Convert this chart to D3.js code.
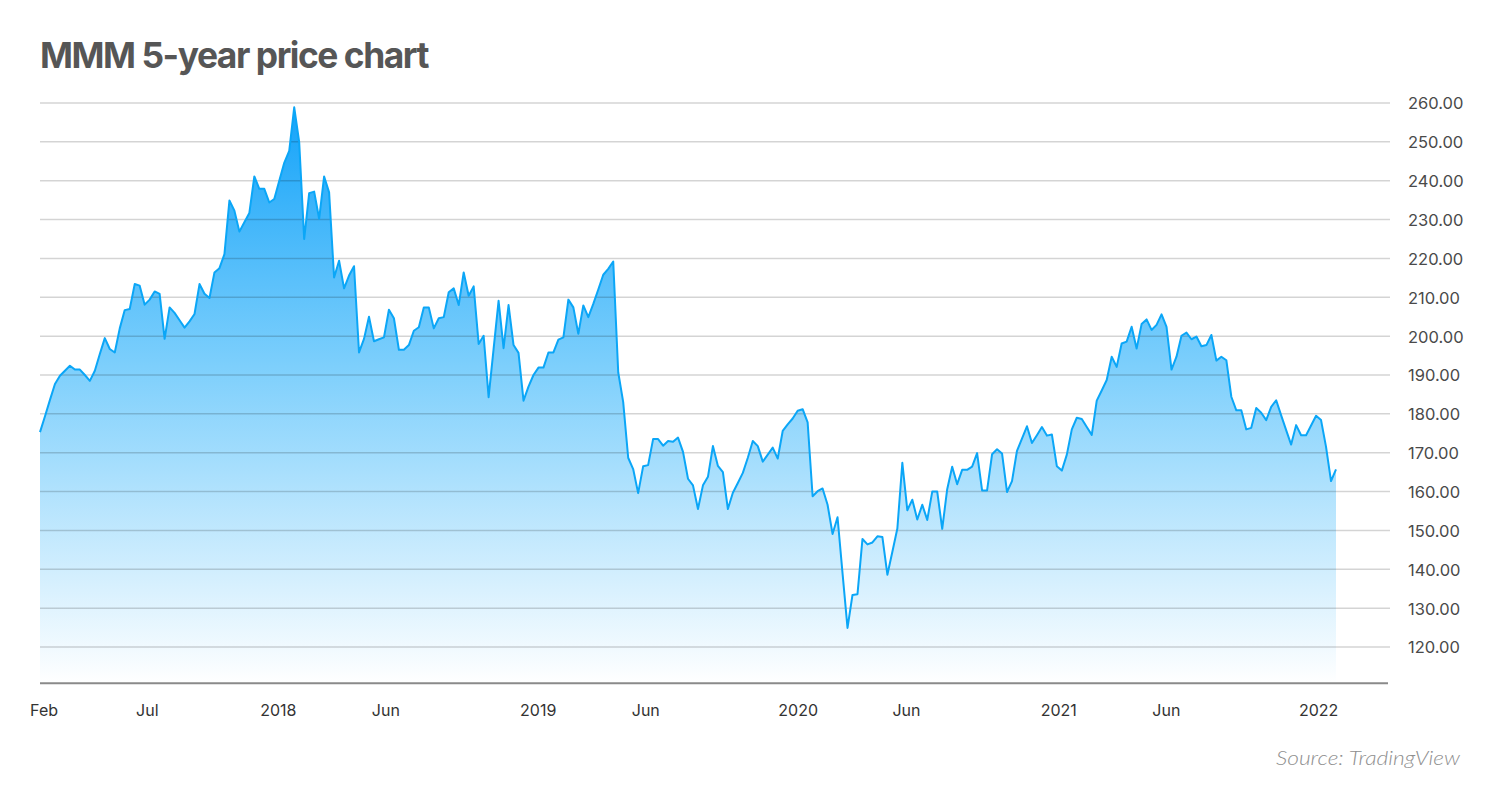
<!DOCTYPE html>
<html>
<head>
<meta charset="utf-8">
<script src="https://cdn.jsdelivr.net/npm/d3@7"></script>
<style>
  html, body { margin: 0; padding: 0; background: #fff; }
  svg { display: block; }
</style>
</head>
<body>
<svg width="1500" height="792"></svg>
<script>
var title = "MMM 5-year price chart";
var source = "Source: TradingView";

// weekly closes, first bar
var firstWeek = "2017-02-01";
var prices = [
  175.3, 179.4, 183.6, 187.7, 189.8, 191.1, 192.4, 191.4, 191.4, 190.0,
  188.5, 191.1, 195.4, 199.5, 196.7, 195.8, 202.0, 206.7, 207.0, 213.4,
  213.0, 208.1, 209.4, 211.5, 210.9, 199.3, 207.4, 206.0, 204.1, 202.2,
  203.8, 205.7, 213.4, 210.9, 209.8, 216.4, 217.5, 221.1, 234.9, 232.3,
  226.9, 229.3, 231.7, 241.1, 237.9, 237.9, 234.4, 235.3, 240.0, 244.6,
  247.7, 258.9, 249.9, 225.0, 236.8, 237.2, 230.2, 241.1, 237.0, 215.1,
  219.4, 212.3, 215.6, 218.0, 195.8, 199.3, 205.0, 198.7, 199.2, 199.7,
  206.8, 204.6, 196.5, 196.5, 197.7, 201.4, 202.3, 207.4, 207.4, 202.0,
  204.6, 204.9, 211.3, 212.3, 208.0, 216.4, 210.4, 212.8, 198.0, 200.1,
  184.3, 196.7, 209.1, 196.9, 208.0, 197.7, 195.7, 183.4, 187.0, 190.0,
  191.9, 191.9, 195.8, 195.8, 199.1, 199.7, 209.4, 207.4, 200.6, 207.9,
  204.9, 208.3, 212.0, 215.8, 217.3, 219.2, 190.7, 183.0, 168.7, 165.8,
  159.6, 166.5, 166.8, 173.5, 173.5, 171.8, 173.0, 172.8, 173.9, 170.2,
  163.3, 161.6, 155.5, 161.6, 163.8, 171.7, 166.6, 165.0, 155.5, 159.7,
  162.2, 164.8, 168.7, 173.0, 171.7, 167.7, 169.5, 171.3, 168.5, 175.6,
  177.3, 178.8, 180.8, 181.2, 177.8, 158.8, 160.1, 160.8, 156.6, 149.1,
  153.4, 139.0, 124.9, 133.4, 133.6, 147.8, 146.4, 146.9, 148.5, 148.3,
  138.6, 144.5, 150.5, 167.4, 155.2, 157.9, 152.8, 156.6, 152.7, 160.0,
  160.0, 150.4, 160.6, 166.4, 161.9, 165.6, 165.6, 166.4, 169.9, 160.3,
  160.3, 169.6, 170.9, 169.8, 159.9, 162.7, 170.5, 173.6, 176.8, 172.5,
  174.5, 176.6, 174.4, 174.7, 166.5, 165.4, 169.5, 176.0, 179.0, 178.7,
  176.6, 174.6, 183.4, 186.0, 188.7, 194.7, 192.1, 198.1, 198.6, 202.4,
  196.8, 203.1, 204.3, 201.6, 202.9, 205.6, 202.4, 191.4, 194.7, 200.1,
  200.9, 199.2, 199.9, 197.4, 197.7, 200.3, 193.7, 194.7, 193.8, 184.4,
  180.9, 180.9, 176.0, 176.4, 181.5, 180.3, 178.4, 181.8, 183.5, 179.6,
  175.8, 172.1, 177.1, 174.5, 174.5, 177.0, 179.5, 178.4, 171.5, 162.7,
  165.7
];

var yTicks = [120, 130, 140, 150, 160, 170, 180, 190, 200, 210, 220, 230, 240, 250, 260];
var yBottom = 110.7;

var xTickDates = ["2017-02-06", "2017-07-01", "2018-01-01", "2018-06-01", "2019-01-01",
                  "2019-06-01", "2020-01-01", "2020-06-01", "2021-01-01", "2021-06-01", "2022-01-01"];
var xTickLabels = ["Feb", "Jul", "2018", "Jun", "2019", "Jun", "2020", "Jun", "2021", "Jun", "2022"];

var parse = d3.timeParse("%Y-%m-%d");
var start = parse(firstWeek);
var data = prices.map(function(p, i) {
  return { date: d3.timeWeek.offset(start, i), value: p };
});

var left = 40, right = 1390;

var svg = d3.select("svg");

var x = d3.scaleTime()
  .domain([data[0].date, data[data.length - 1].date])
  .range([40, 1336]);

var y = d3.scaleLinear()
  .domain([120, 260])
  .range([647, 103]);

var defs = svg.append("defs");
var grad = defs.append("linearGradient")
  .attr("id", "fillGrad")
  .attr("gradientUnits", "userSpaceOnUse")
  .attr("x1", 0).attr("x2", 0)
  .attr("y1", y(259)).attr("y2", y(yBottom));
grad.append("stop").attr("offset", "0%").attr("stop-color", "#14a3f9");
grad.append("stop").attr("offset", "45%").attr("stop-color", "#7dcffc");
grad.append("stop").attr("offset", "100%").attr("stop-color", "#ffffff");

// title
var t = svg.append("text")
  .attr("x", 40)
  .attr("y", 68)
  .style("font-family", "Inter, 'Noto Sans', sans-serif")
  .style("font-weight", "700")
  .style("font-size", "36px")
  .style("letter-spacing", "-1.5px")
  .style("fill", "#565656")
  .text(title);
t.attr("textLength", 388).attr("lengthAdjust", "spacingAndGlyphs");

// area
var area = d3.area()
  .x(function(d) { return x(d.date); })
  .y0(y(yBottom))
  .y1(function(d) { return y(d.value); });

svg.append("path")
  .datum(data)
  .attr("d", area)
  .style("fill", "url(#fillGrad)");

// grid on top of the fill
var grid = svg.append("g");
grid.selectAll("line")
  .data(yTicks)
  .enter().append("line")
  .attr("x1", left)
  .attr("x2", right)
  .attr("y1", function(d) { return y(d); })
  .attr("y2", function(d) { return y(d); })
  .style("stroke", "rgba(0,0,0,0.17)")
  .style("stroke-width", 1.5);

// price line
var line = d3.line()
  .x(function(d) { return x(d.date); })
  .y(function(d) { return y(d.value); });

svg.append("path")
  .datum(data)
  .attr("d", line)
  .style("fill", "none")
  .style("stroke", "#0ba6f7")
  .style("stroke-width", 2)
  .style("stroke-linejoin", "round");

// right axis labels
var yAxis = d3.axisRight(y)
  .tickValues(yTicks)
  .tickSize(0)
  .tickPadding(0)
  .tickFormat(d3.format(".2f"));

var ya = svg.append("g")
  .attr("transform", "translate(1408,0)")
  .call(yAxis);
ya.select(".domain").remove();
ya.selectAll("text")
  .attr("dy", "0.36em")
  .style("font-family", "Inter, 'Noto Sans', sans-serif")
  .style("font-size", "16.5px")
  .style("fill", "#4a4a4a");

// bottom axis
svg.append("line")
  .attr("x1", left)
  .attr("x2", 1388)
  .attr("y1", y(yBottom))
  .attr("y2", y(yBottom))
  .style("stroke", "#8a8a8a")
  .style("stroke-width", 2);

var xAxis = d3.axisBottom(x)
  .tickValues(xTickDates.map(parse))
  .tickSize(0)
  .tickPadding(0)
  .tickFormat(function(d, i) { return xTickLabels[i]; });

var xa = svg.append("g")
  .attr("transform", "translate(0,705)")
  .call(xAxis);
xa.select(".domain").remove();
xa.selectAll("text")
  .attr("dy", "0.71em")
  .style("font-family", "Inter, 'Noto Sans', sans-serif")
  .style("font-size", "16px")
  .style("fill", "#333");

// source
svg.append("text")
  .attr("x", 1460)
  .attr("y", 765)
  .attr("text-anchor", "end")
  .attr("textLength", 184)
  .attr("lengthAdjust", "spacingAndGlyphs")
  .style("font-family", "Lato, 'Open Sans', sans-serif")
  .style("font-style", "italic")
  .style("font-weight", "300")
  .style("font-size", "19px")
  .style("fill", "#8f8f8f")
  .text(source);
</script>
</body>
</html>
